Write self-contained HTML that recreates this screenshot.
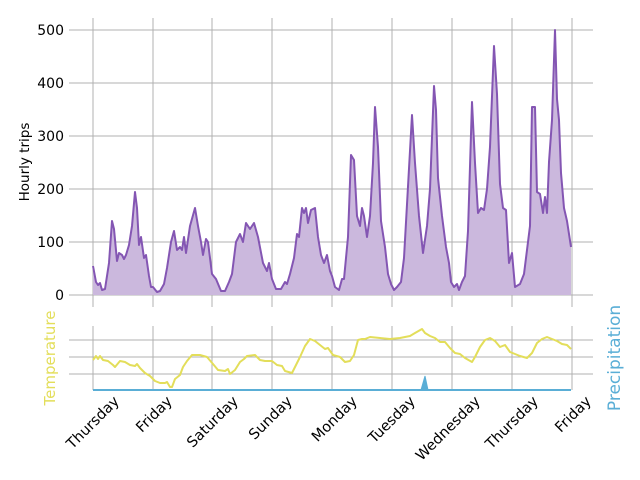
<!DOCTYPE html>
<html><head><meta charset="utf-8"><style>body{margin:0;background:#fff}svg{display:block}text{font-family:"DejaVu Sans","Liberation Sans",sans-serif}</style></head><body>
<svg width="640" height="480" viewBox="0 0 640 480" xmlns="http://www.w3.org/2000/svg">
<g stroke="#b0b0b0" stroke-width="1">
<line x1="69" y1="30" x2="593" y2="30"/><line x1="69" y1="83" x2="593" y2="83"/><line x1="69" y1="136" x2="593" y2="136"/><line x1="69" y1="189" x2="593" y2="189"/><line x1="69" y1="242" x2="593" y2="242"/><line x1="69" y1="295" x2="593" y2="295"/>
<line x1="93" y1="18" x2="93" y2="307"/><line x1="153" y1="18" x2="153" y2="307"/><line x1="212" y1="18" x2="212" y2="307"/><line x1="272" y1="18" x2="272" y2="307"/><line x1="332" y1="18" x2="332" y2="307"/><line x1="392" y1="18" x2="392" y2="307"/><line x1="452" y1="18" x2="452" y2="307"/><line x1="512" y1="18" x2="512" y2="307"/><line x1="572" y1="18" x2="572" y2="307"/>
<line x1="69" y1="340" x2="593" y2="340"/><line x1="69" y1="357" x2="593" y2="357"/><line x1="69" y1="374" x2="593" y2="374"/>
<line x1="93" y1="326" x2="93" y2="390"/><line x1="153" y1="326" x2="153" y2="390"/><line x1="212" y1="326" x2="212" y2="390"/><line x1="272" y1="326" x2="272" y2="390"/><line x1="332" y1="326" x2="332" y2="390"/><line x1="392" y1="326" x2="392" y2="390"/><line x1="452" y1="326" x2="452" y2="390"/><line x1="512" y1="326" x2="512" y2="390"/><line x1="572" y1="326" x2="572" y2="390"/>
</g>
<g font-size="14" fill="#000" text-anchor="end">
<text x="64" y="35">500</text><text x="64" y="88">400</text><text x="64" y="141">300</text><text x="64" y="194">200</text><text x="64" y="247">100</text><text x="64" y="300">0</text>
</g>
<text transform="translate(29,162) rotate(-90)" font-size="13.5" text-anchor="middle">Hourly trips</text>
<text transform="translate(55,358) rotate(-90)" font-size="15" fill="#e3de5a" text-anchor="middle">Temperature</text>
<text transform="translate(620,358) rotate(-90)" font-size="17" fill="#5aaed6" text-anchor="middle">Precipitation</text>
<polygon fill="#cbb8dd" stroke="none" points="93,295 93,266 96,282 98,285 100,283 102,290 105,289 109,263 112,221 114,229 117,261 119,253 122,255 124,259 126,255 129,245 132,226 135,192 137,208 139,245 141,237 144,258 146,255 149,276 151,287 153,287 157,292 160,291 164,284 167,268 171,242 174,231 177,250 180,247 182,250 184,237 186,253 190,226 195,208 198,226 201,242 203,255 206,239 208,242 212,274 216,279 221,291 225,291 229,282 232,274 236,242 240,234 243,242 246,223 250,229 254,223 258,237 263,263 267,271 269,263 272,279 276,289 281,289 285,282 287,284 290,274 294,258 297,234 299,237 302,208 304,213 306,208 308,223 311,210 315,208 318,237 321,255 324,263 327,255 330,271 332,276 335,287 339,290 342,279 344,279 348,237 351,155 354,160 357,216 360,226 362,208 364,216 367,237 370,216 373,163 375,107 378,147 381,221 385,247 388,274 391,284 394,290 397,287 401,282 404,258 412,115 415,163 419,216 423,253 427,226 430,189 434,86 436,110 438,178 442,216 446,247 449,263 451,282 454,287 457,284 459,290 462,282 465,276 468,231 472,102 475,163 478,213 481,208 484,210 487,189 490,147 494,46 497,94 500,184 503,208 506,210 509,263 512,253 515,287 520,284 524,274 530,226 532,107 535,107 537,192 540,194 543,213 545,197 547,213 549,162 552,120 555,30 557,99 559,120 561,173 564,208 567,221 571,247 571,295"/>
<polyline fill="none" stroke="#8456b3" stroke-width="2" stroke-linejoin="round" points="93,266 96,282 98,285 100,283 102,290 105,289 109,263 112,221 114,229 117,261 119,253 122,255 124,259 126,255 129,245 132,226 135,192 137,208 139,245 141,237 144,258 146,255 149,276 151,287 153,287 157,292 160,291 164,284 167,268 171,242 174,231 177,250 180,247 182,250 184,237 186,253 190,226 195,208 198,226 201,242 203,255 206,239 208,242 212,274 216,279 221,291 225,291 229,282 232,274 236,242 240,234 243,242 246,223 250,229 254,223 258,237 263,263 267,271 269,263 272,279 276,289 281,289 285,282 287,284 290,274 294,258 297,234 299,237 302,208 304,213 306,208 308,223 311,210 315,208 318,237 321,255 324,263 327,255 330,271 332,276 335,287 339,290 342,279 344,279 348,237 351,155 354,160 357,216 360,226 362,208 364,216 367,237 370,216 373,163 375,107 378,147 381,221 385,247 388,274 391,284 394,290 397,287 401,282 404,258 412,115 415,163 419,216 423,253 427,226 430,189 434,86 436,110 438,178 442,216 446,247 449,263 451,282 454,287 457,284 459,290 462,282 465,276 468,231 472,102 475,163 478,213 481,208 484,210 487,189 490,147 494,46 497,94 500,184 503,208 506,210 509,263 512,253 515,287 520,284 524,274 530,226 532,107 535,107 537,192 540,194 543,213 545,197 547,213 549,162 552,120 555,30 557,99 559,120 561,173 564,208 567,221 571,247"/>
<line x1="93" y1="390" x2="571" y2="390" stroke="#5aaed6" stroke-width="2"/>
<polygon fill="#5aaed6" stroke="#5aaed6" stroke-width="1" points="421,390 425,376 428,390"/>
<polyline fill="none" stroke="#e3de5a" stroke-width="2" stroke-linejoin="round" points="93,360 96,356 98,359 100,356 103,360 108,361 113,365 115,367 120,361 125,362 130,365 135,366 137,364 140,368 145,373 150,376 155,381 160,383 165,383 167,382 170,387 172,387 175,379 180,375 183,367 187,361 192,355 200,355 207,357 213,364 218,370 225,371 228,369 230,374 235,370 240,362 244,359 247,356 255,355 260,360 265,361 272,361 277,365 282,366 285,371 292,373 300,357 305,346 310,339 315,341 320,345 325,349 328,348 333,355 340,357 345,362 350,361 354,355 358,340 362,339 365,339 370,337 380,338 390,339 400,338 410,336 415,333 422,329 425,333 430,336 435,338 440,342 445,342 450,348 455,353 460,354 465,358 472,362 475,357 480,347 485,340 490,338 495,341 500,347 505,345 510,352 515,354 520,356 527,358 532,353 537,343 542,339 547,337 552,339 557,341 562,344 567,345 571,349"/>
<g font-size="14.5" fill="#000" text-anchor="end">
<text transform="translate(120,402) rotate(-45)">Thursday</text>
<text transform="translate(173,402) rotate(-45)">Friday</text>
<text transform="translate(239,402) rotate(-45)">Saturday</text>
<text transform="translate(293,402) rotate(-45)">Sunday</text>
<text transform="translate(358,402) rotate(-45)">Monday</text>
<text transform="translate(416,402) rotate(-45)">Tuesday</text>
<text transform="translate(481,402) rotate(-45)">Wednesday</text>
<text transform="translate(539,402) rotate(-45)">Thursday</text>
<text transform="translate(592,402) rotate(-45)">Friday</text>
</g>
</svg>
</body></html>
